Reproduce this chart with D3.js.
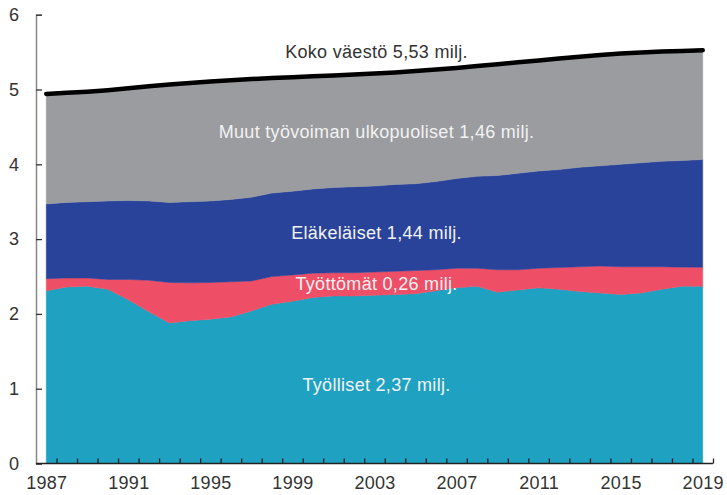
<!DOCTYPE html>
<html>
<head>
<meta charset="utf-8">
<script src="https://cdn.jsdelivr.net/npm/d3@7"></script>
<style>
  html, body { margin: 0; padding: 0; background: #fff; }
  svg { display: block; font-family: "Liberation Sans", Arial, sans-serif; }
</style>
</head>
<body>
<svg id="chart" width="727" height="495"></svg>
<script>
// ---- Data (millions of people) ----
const years = d3.range(1987, 2020);
const employed = [2.31, 2.36, 2.37, 2.33, 2.19, 2.03, 1.88, 1.91, 1.93, 1.96, 2.04, 2.13, 2.17, 2.22, 2.24, 2.24, 2.25, 2.26, 2.27, 2.31, 2.35, 2.37, 2.29, 2.32, 2.35, 2.33, 2.30, 2.28, 2.26, 2.28, 2.33, 2.37, 2.37];
const unemployed = [0.16, 0.12, 0.11, 0.13, 0.27, 0.42, 0.54, 0.505, 0.49, 0.47, 0.40, 0.37, 0.35, 0.325, 0.31, 0.31, 0.31, 0.31, 0.31, 0.28, 0.26, 0.24, 0.30, 0.27, 0.26, 0.29, 0.33, 0.36, 0.37, 0.35, 0.30, 0.255, 0.255];
const retirees = [1.00, 1.01, 1.02, 1.05, 1.055, 1.06, 1.07, 1.085, 1.09, 1.10, 1.12, 1.115, 1.12, 1.125, 1.14, 1.15, 1.15, 1.16, 1.16, 1.18, 1.20, 1.23, 1.26, 1.29, 1.30, 1.31, 1.33, 1.34, 1.37, 1.39, 1.41, 1.425, 1.44];
const totalPopulation = [4.94, 4.955, 4.97, 4.99, 5.016, 5.043, 5.066, 5.088, 5.108, 5.125, 5.140, 5.153, 5.165, 5.176, 5.188, 5.201, 5.213, 5.228, 5.246, 5.266, 5.289, 5.313, 5.339, 5.363, 5.388, 5.414, 5.439, 5.462, 5.480, 5.495, 5.508, 5.516, 5.525];
const seriesKeys = ["employed", "unemployed", "retirees", "others"];
const seriesColors = ["#1fa1c1", "#ee4e66", "#29439a", "#9a9ca0"];
const yTicks = [0, 1, 2, 3, 4, 5, 6];
const xLabelYears = [1987, 1991, 1995, 1999, 2003, 2007, 2011, 2015, 2019];
const labels = [
  { text: "Koko väestö 5,53 milj.", color: "#333333" },
  { text: "Muut työvoiman ulkopuoliset 1,46 milj.", color: "#f2f2f2" },
  { text: "Eläkeläiset 1,44 milj.", color: "#f2f2f2" },
  { text: "Työttömät 0,26 milj.", color: "#f2f2f2" },
  { text: "Työlliset 2,37 milj.", color: "#f2f2f2" }
];

// ---- Build table ----
const table = years.map((yr, i) => {
  const nav = employed[i] + unemployed[i] + retirees[i];
  return {
    year: yr,
    employed: employed[i],
    unemployed: unemployed[i],
    retirees: retirees[i],
    others: totalPopulation[i] - nav,
    total: totalPopulation[i]
  };
});

const svg = d3.select("#chart");
const x = d3.scaleLinear().domain([1986.5, 2019.5]).range([36, 713]);
const y = d3.scaleLinear().domain([0, 6]).range([463.5, 14.7]);

const stacked = d3.stack().keys(seriesKeys)(table);
const area = d3.area()
  .x(d => x(d.data.year))
  .y0(d => y(d[0]))
  .y1(d => y(d[1]));

svg.append("g").selectAll("path")
  .data(stacked)
  .join("path")
  .attr("d", area)
  .attr("fill", (d, i) => seriesColors[i])
  .attr("stroke", (d, i) => seriesColors[i])
  .attr("stroke-width", 0.5);

// total line
svg.append("path")
  .datum(table)
  .attr("d", d3.line().x(d => x(d.year)).y(d => y(d.total)))
  .attr("fill", "none")
  .attr("stroke", "#000")
  .attr("stroke-width", 4.5)
  .attr("stroke-linecap", "round");

// ---- Axes ----
const yAxis = d3.axisLeft(y).tickValues(yTicks).tickSize(-6).tickPadding(17).tickFormat(d3.format("d"));
const gy = svg.append("g").attr("transform", "translate(36,0)").call(yAxis);
gy.select(".domain").attr("stroke", "#888").attr("stroke-width", 1.5);
gy.selectAll(".tick line").attr("stroke", "#333").attr("stroke-width", 1.3);
gy.selectAll(".tick text").attr("fill", "#333").style("font-size", "18px").style("font-family", "Liberation Sans, Arial, sans-serif");

const halfYears = d3.range(1987.5, 2020, 1);
const xTickAxis = d3.axisBottom(x).tickValues(halfYears).tickSize(-5).tickFormat("");
const gx = svg.append("g").attr("transform", "translate(0,463.5)").call(xTickAxis);
gx.select(".domain").attr("stroke", "#222").attr("stroke-width", 1.5)
  .attr("d", `M${x(1986.5)},0H${x(2019.5)}`);
gx.selectAll(".tick line").attr("stroke", "#222").attr("stroke-width", 1.3);

const xLabelAxis = d3.axisBottom(x).tickValues(xLabelYears).tickSize(0).tickPadding(13).tickFormat(d3.format("d"));
const gxl = svg.append("g").attr("transform", "translate(0,463.5)").call(xLabelAxis);
gxl.select(".domain").remove();
gxl.selectAll(".tick text").attr("fill", "#333").style("font-size", "18px").style("letter-spacing", "0.3px").style("font-family", "Liberation Sans, Arial, sans-serif");

// ---- Series labels ----
const labelPos = [
  { yr: 2003.1, v: 5.425 },
  { yr: 2003.1, v: 4.355 },
  { yr: 2003.1, v: 3.0 },
  { yr: 2003.1, v: 2.32 },
  { yr: 2003.1, v: 0.97 }
];
svg.append("g").selectAll("text")
  .data(labels)
  .join("text")
  .attr("x", (d, i) => x(labelPos[i].yr))
  .attr("y", (d, i) => y(labelPos[i].v))
  .attr("text-anchor", "middle")
  .attr("fill", d => d.color)
  .style("font-size", "18px")
  .style("letter-spacing", "0.3px")
  .text(d => d.text);
</script>
</body>
</html>
